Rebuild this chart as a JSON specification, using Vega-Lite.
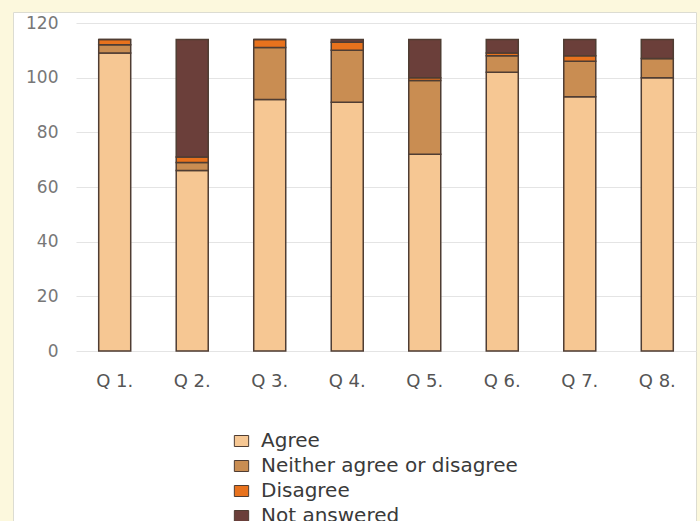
{
  "$schema": "https://vega.github.io/schema/vega-lite/v6.json",
  "width": 683,
  "height": 509,
  "autosize": "none",
  "padding": {"left": 13, "top": 12, "right": 4, "bottom": 0},
  "background": "#fcf8dd",
  "config": {
    "font": "DejaVu Sans",
    "view": {"fill": "#ffffff", "stroke": "#dcdcd2", "strokeWidth": 1}
  },
  "data": {
    "values": [
      {"question": "Q 1.", "response": "Agree", "count": 109},
      {"question": "Q 1.", "response": "Neither agree or disagree", "count": 3},
      {"question": "Q 1.", "response": "Disagree", "count": 2},
      {"question": "Q 1.", "response": "Not answered", "count": 0},
      {"question": "Q 2.", "response": "Agree", "count": 66},
      {"question": "Q 2.", "response": "Neither agree or disagree", "count": 3},
      {"question": "Q 2.", "response": "Disagree", "count": 2},
      {"question": "Q 2.", "response": "Not answered", "count": 43},
      {"question": "Q 3.", "response": "Agree", "count": 92},
      {"question": "Q 3.", "response": "Neither agree or disagree", "count": 19},
      {"question": "Q 3.", "response": "Disagree", "count": 3},
      {"question": "Q 3.", "response": "Not answered", "count": 0},
      {"question": "Q 4.", "response": "Agree", "count": 91},
      {"question": "Q 4.", "response": "Neither agree or disagree", "count": 19},
      {"question": "Q 4.", "response": "Disagree", "count": 3},
      {"question": "Q 4.", "response": "Not answered", "count": 1},
      {"question": "Q 5.", "response": "Agree", "count": 72},
      {"question": "Q 5.", "response": "Neither agree or disagree", "count": 27},
      {"question": "Q 5.", "response": "Disagree", "count": 1},
      {"question": "Q 5.", "response": "Not answered", "count": 14},
      {"question": "Q 6.", "response": "Agree", "count": 102},
      {"question": "Q 6.", "response": "Neither agree or disagree", "count": 6},
      {"question": "Q 6.", "response": "Disagree", "count": 1},
      {"question": "Q 6.", "response": "Not answered", "count": 5},
      {"question": "Q 7.", "response": "Agree", "count": 93},
      {"question": "Q 7.", "response": "Neither agree or disagree", "count": 13},
      {"question": "Q 7.", "response": "Disagree", "count": 2},
      {"question": "Q 7.", "response": "Not answered", "count": 6},
      {"question": "Q 8.", "response": "Agree", "count": 100},
      {"question": "Q 8.", "response": "Neither agree or disagree", "count": 7},
      {"question": "Q 8.", "response": "Disagree", "count": 0},
      {"question": "Q 8.", "response": "Not answered", "count": 7}
    ]
  },
  "transform": [
    {
      "calculate": "indexof(['Agree', 'Neither agree or disagree', 'Disagree', 'Not answered'], datum.response)",
      "as": "stack_rank"
    }
  ],
  "mark": {"type": "bar", "stroke": "#4f3d33", "strokeWidth": 1.5},
  "encoding": {
    "x": {
      "field": "question",
      "type": "nominal",
      "sort": null,
      "scale": {"range": [63, 683], "paddingInner": 0.587, "paddingOuter": 0.293},
      "axis": {
        "title": null,
        "orient": "bottom",
        "offset": -170,
        "domain": false,
        "ticks": false,
        "labelAngle": 0,
        "labelPadding": 21,
        "labelFontSize": 18,
        "labelColor": "#555555"
      }
    },
    "y": {
      "field": "count",
      "type": "quantitative",
      "stack": "zero",
      "scale": {"domain": [0, 120], "range": [339, 11], "nice": false, "zero": true},
      "axis": {
        "title": null,
        "values": [0, 20, 40, 60, 80, 100, 120],
        "domain": false,
        "ticks": false,
        "tickSize": 0,
        "labelPadding": -45,
        "labelFontSize": 17,
        "labelColor": "#777777",
        "gridColor": "#e4e4e4",
        "gridWidth": 1.2
      }
    },
    "order": {"field": "stack_rank", "type": "quantitative", "sort": "ascending"},
    "color": {
      "field": "response",
      "type": "nominal",
      "scale": {
        "domain": ["Agree", "Neither agree or disagree", "Disagree", "Not answered"],
        "range": ["#f6c793", "#c98d52", "#e8721d", "#6b3f3a"]
      },
      "legend": {
        "title": null,
        "orient": "none",
        "legendX": 218.5,
        "legendY": 419,
        "direction": "vertical",
        "padding": 0,
        "rowPadding": 5,
        "labelFontSize": 20,
        "labelLimit": 500,
        "labelColor": "#3a3a3a",
        "labelOffset": 9.5,
        "symbolType": "M-1.3,-1H1.3V1H-1.3Z",
        "symbolSize": 121,
        "symbolStrokeColor": "#4f3d33",
        "symbolStrokeWidth": 1,
        "symbolOpacity": 1
      }
    }
  }
}
